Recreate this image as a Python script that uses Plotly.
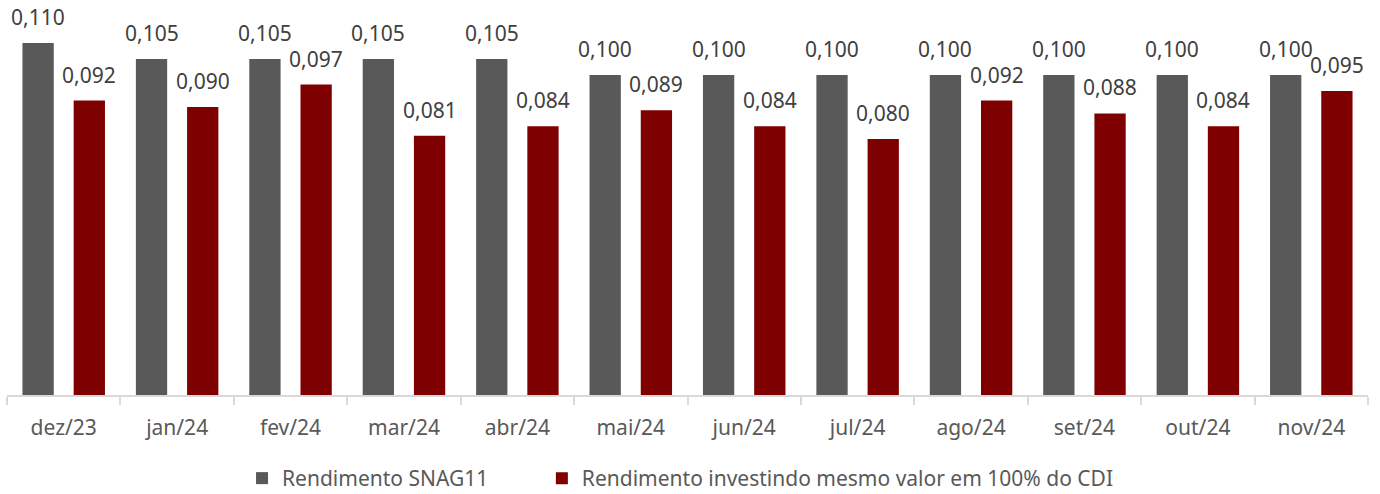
import plotly.graph_objects as go

categories = ["dez/23", "jan/24", "fev/24", "mar/24", "abr/24", "mai/24",
              "jun/24", "jul/24", "ago/24", "set/24", "out/24", "nov/24"]
snag11 = [0.110, 0.105, 0.105, 0.105, 0.105, 0.100, 0.100, 0.100, 0.100, 0.100, 0.100, 0.100]
cdi = [0.092, 0.090, 0.097, 0.081, 0.084, 0.089, 0.084, 0.080, 0.092, 0.088, 0.084, 0.095]
series_names = ["Rendimento SNAG11", "Rendimento investindo mesmo valor em 100% do CDI"]
colors = ["#595959", "#7F0000"]

FONT = "Noto Sans"

fig = go.Figure()
for name, vals, col, lg in zip(series_names, [snag11, cdi], colors, ["legend", "legend2"]):
    fig.add_trace(go.Bar(x=categories, y=vals, name=name, marker_color=col,
                         marker_line_width=0, hoverinfo="skip", legend=lg))

def fmt(v):
    return f"{v:.3f}".replace(".", ",")

annotations = []
for vals, shift in [(snag11, -25.6), (cdi, 25.6)]:
    for c, v in zip(categories, vals):
        annotations.append(dict(x=c, y=v, text=fmt(v), showarrow=False,
                                xshift=shift, yanchor="bottom", yshift=10,
                                font=dict(family=FONT, size=21, color="#404040")))

legend_style = dict(orientation="h", xanchor="left", y=-0.164, yanchor="top",
                    font=dict(family=FONT, size=21, color="#595959"),
                    itemwidth=30, bgcolor="rgba(0,0,0,0)")

fig.update_layout(
    width=1380, height=494,
    margin=dict(l=7, r=12, t=11, b=99, autoexpand=False),
    paper_bgcolor="white", plot_bgcolor="white",
    barmode="group", bargap=0.097, bargroupgap=0.389,
    showlegend=True,
    legend=dict(x=0.1727, **legend_style),
    legend2=dict(x=0.393, **legend_style),
    annotations=annotations,
    font=dict(family=FONT),
)
fig.update_xaxes(showline=True, linecolor="#D9D9D9", linewidth=1.5,
                 ticks="outside", tickson="boundaries", ticklen=8,
                 tickcolor="#D9D9D9", tickwidth=1.5, ticklabelstandoff=13,
                 tickfont=dict(family=FONT, size=21, color="#595959"),
                 showgrid=False, fixedrange=True, automargin=False)
fig.update_yaxes(visible=False, range=[0, 0.12], showgrid=False, fixedrange=True)

fig.write_html("out.html", config={"displayModeBar": False},
               post_script="document.body.style.margin='0';document.body.style.padding='0';")
